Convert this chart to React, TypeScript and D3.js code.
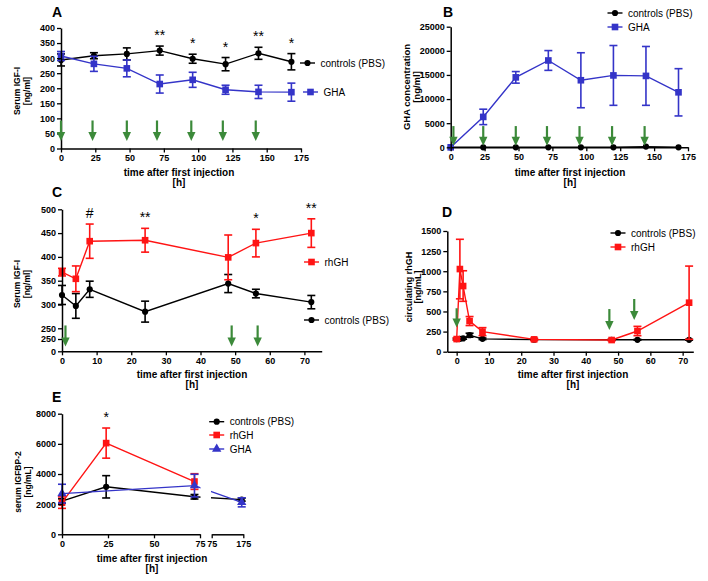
import React, { useEffect, useRef } from "react";
import * as d3 from "d3";

// ---- panel A: serum IGF-I, GHA study
const hoursA = [0, 24, 48, 72, 96, 120, 144, 168];
const ctrlA = [294, 308, 314, 325, 298, 280, 316, 288];
const ctrlAErr = [20, 10, 20, 15, 15, 22, 20, 27];
const ghaA = [307, 281, 266, 214, 228, 195, 188, 187];
const ghaAErr = [15, 25, 28, 30, 25, 15, 22, 30];
const starHoursA = [72, 96, 120, 144, 168];
const starsA = ["**", "*", "*", "**", "*"];
const arrowsA = [0, 23, 48, 70, 95, 118, 142];
const arrowSpanA = [93, 25];

// ---- panel B: GHA concentration
const hoursB = [0, 24, 48, 72, 96, 120, 144, 168];
const ctrlB = [0, 0, 0, 0, 0, 0, 150, 0];
const ghaB = [0, 6300, 14500, 18000, 13900, 14900, 14800, 11400];
const ghaBErr = [0, 1600, 1200, 2050, 5700, 6200, 6100, 4900];
const arrowsB = [2, 24, 48, 71, 95, 119, 143];
const arrowSpanB = [4400, 300];

// ---- panel C: serum IGF-I, rhGH study
const hoursC = [0, 4, 8, 24, 48, 56, 72];
const rhghC = [368, 354, 433, 435, 399, 429, 450];
const rhghCErr = [8, 27, 36, 25, 47, 29, 30];
const ctrlC = [320, 297, 332, 285, 344, 323, 305];
const ctrlCErr = [20, 26, 17, 22, 19, 9, 14];
const starHoursC = [8, 24, 56, 72];
const starsC = ["#", "**", "*", "**"];
const arrowsC = [1, 49, 56.5];
const arrowSpanC = [256, 100];

// ---- panel D: circulating rhGH
const hoursD = [0, 1, 2, 4, 8, 24, 48, 56, 72];
const rhghD = [157, 1027, 816, 381, 249, 153, 145, 257, 609];
const rhghDErr = [15, 370, 190, 56, 50, 15, 10, 58, 455];
const ctrlD = [157, 160, 165, 205, 160, 150, 148, 148, 148];
const ctrlDErr = [10, 10, 10, 25, 10, 5, 5, 5, 5];
const arrowsD = [0, 47.3, 55];
const arrowTopsD = [540, 530, 655];
const arrowTipsD = [300, 270, 394];

// ---- panel E: serum IGFBP-2
const ctrlHoursE = [0, 24, 72, 170];
const ctrlE = [2200, 3150, 2490, 2300];
const ctrlEErr = [150, 740, 150, 100];
const rhghHoursE = [0, 24, 72];
const rhghE = [2100, 6050, 3500];
const rhghEErr = [380, 1000, 520];
const ghaHoursE = [0, 72, 170];
const ghaE = [2700, 3230, 2120];
const ghaEErr = [620, 750, 300];

const BLACK = "#000";
const BLUE = "#3434c8";
const RED = "#ff1414";
const GREEN = "#3c8a3a";
const FONT = "'Liberation Sans', Arial, Helvetica, sans-serif";

type G = d3.Selection<SVGGElement, unknown, null, undefined>;
type Scale = (v: number) => number;

function drawMarker(g: G, shape: string, cx: number, cy: number, color: string) {
  const type =
    shape === "circle" ? d3.symbolCircle : shape === "square" ? d3.symbolSquare : d3.symbolTriangle;
  const size = shape === "circle" ? 30 : shape === "square" ? 44 : 38;
  g.append("path")
    .attr("d", d3.symbol().type(type).size(size)())
    .attr("transform", `translate(${cx},${cy})`)
    .attr("fill", color);
}

function drawSeries(
  g: G,
  xs: number[],
  ys: number[],
  errs: number[] | null,
  x: Scale,
  y: Scale,
  color: string,
  shape: string,
  clip?: string
) {
  const pts = xs.map((d, i) => [d, ys[i]] as [number, number]);
  const line = d3
    .line<[number, number]>()
    .x((d) => x(d[0]))
    .y((d) => y(d[1]));
  const p = g
    .append("path")
    .datum(pts)
    .attr("d", line)
    .attr("fill", "none")
    .attr("stroke", color)
    .attr("stroke-width", 1.4);
  if (clip) p.attr("clip-path", `url(#${clip})`);
  if (errs) {
    pts.forEach((d, i) => {
      const e = errs[i];
      if (!e) return;
      const cx = x(d[0]);
      const y0 = y(d[1] - e);
      const y1 = y(d[1] + e);
      g.append("line").attr("x1", cx).attr("x2", cx).attr("y1", y0).attr("y2", y1)
        .attr("stroke", color).attr("stroke-width", 1.6);
      [y0, y1].forEach((yy) =>
        g.append("line").attr("x1", cx - 4).attr("x2", cx + 4).attr("y1", yy).attr("y2", yy)
          .attr("stroke", color).attr("stroke-width", 1.6)
      );
    });
  }
  pts.forEach((d) => drawMarker(g, shape, x(d[0]), y(d[1]), color));
}

function styleAxis(a: G) {
  a.attr("font-family", FONT).attr("font-size", 9).attr("font-weight", "bold");
  a.select(".domain").attr("stroke-width", 1.5);
  a.selectAll(".tick line").attr("stroke-width", 1.3);
  a.selectAll(".tick text").attr("fill", "#000");
}

function xAxis(g: G, x: d3.ScaleLinear<number, number>, y0: number, ticks: number[]) {
  const a = g
    .append("g")
    .attr("transform", `translate(0,${y0})`)
    .call(d3.axisBottom(x).tickValues(ticks).tickSize(4).tickSizeOuter(0).tickPadding(2).tickFormat(d3.format("d")));
  styleAxis(a);
}

function yAxis(g: G, y: d3.ScaleLinear<number, number>, x0: number, ticks: number[]) {
  const a = g
    .append("g")
    .attr("transform", `translate(${x0},0)`)
    .call(d3.axisLeft(y).tickValues(ticks).tickSize(4).tickSizeOuter(0).tickPadding(2).tickFormat((d) => String(Math.round(+d))));
  styleAxis(a);
}

function arrow(g: G, cx: number, yTop: number, yTip: number) {
  g.append("line").attr("x1", cx).attr("x2", cx).attr("y1", yTop).attr("y2", yTip - 7)
    .attr("stroke", GREEN).attr("stroke-width", 2.2);
  g.append("path")
    .attr("d", `M${cx - 4.2},${yTip - 9}L${cx + 4.2},${yTip - 9}L${cx},${yTip}Z`)
    .attr("fill", GREEN);
}

function legend(g: G, cx: number, cy: number, color: string, shape: string, label: string) {
  g.append("line").attr("x1", cx - 7.5).attr("x2", cx + 7.5).attr("y1", cy).attr("y2", cy)
    .attr("stroke", color).attr("stroke-width", 1.4);
  drawMarker(g, shape, cx, cy, color);
  g.append("text").attr("x", cx + 13).attr("y", cy).attr("dy", "0.35em")
    .attr("font-family", FONT).attr("font-size", 10).attr("fill", "#000").text(label);
}

function yTitle(g: G, lines: string[], xs: number[], cy: number, size: number) {
  lines.forEach((t, i) =>
    g.append("text")
      .attr("transform", `translate(${xs[i]},${cy}) rotate(-90)`)
      .attr("text-anchor", "middle").attr("font-family", FONT).attr("font-size", size)
      .attr("font-weight", "bold").text(t)
  );
}

function xTitle(g: G, cx: number, y0: number) {
  g.append("text").attr("x", cx).attr("y", y0).attr("text-anchor", "middle")
    .attr("font-family", FONT).attr("font-size", 10).attr("font-weight", "bold")
    .text("time after first injection");
  g.append("text").attr("x", cx).attr("y", y0 + 10).attr("text-anchor", "middle")
    .attr("font-family", FONT).attr("font-size", 10).attr("font-weight", "bold").text("[h]");
}

function panelLetter(g: G, x: number, y: number, t: string) {
  g.append("text").attr("x", x).attr("y", y).attr("font-family", FONT)
    .attr("font-size", 14).attr("font-weight", "bold").text(t);
}

function star(g: G, cx: number, y: number, t: string) {
  g.append("text").attr("x", cx).attr("y", y).attr("text-anchor", "middle")
    .attr("font-family", FONT).attr("font-size", 14).text(t);
}

const App: React.FC = () => {
  const ref = useRef<SVGSVGElement>(null);

  useEffect(() => {
    const svg = d3.select(ref.current);
    svg.selectAll("*").remove();
    svg.append("rect").attr("width", 708).attr("height", 581).attr("fill", "#fff");
    const root = svg.append("g") as unknown as G;

    // ===== A
    {
      const g = root.append("g") as G;
      const x = d3.scaleLinear().domain([0, 175]).range([61, 301]);
      const y = d3.scaleLinear().domain([0, 400]).range([148.5, 28]);
      drawSeries(g, hoursA, ctrlA, ctrlAErr, x, y, BLACK, "circle");
      drawSeries(g, hoursA, ghaA, ghaAErr, x, y, BLUE, "square");
      xAxis(g, x, 148.5, d3.range(0, 176, 25));
      yAxis(g, y, 61, d3.range(0, 401, 50));
      arrowsA.forEach((h) => arrow(g, x(h), y(arrowSpanA[0]), y(arrowSpanA[1])));
      starHoursA.forEach((h, i) => {
        const k = hoursA.indexOf(h);
        const top = Math.max(ctrlA[k] + ctrlAErr[k], ghaA[k] + ghaAErr[k]);
        star(g, x(h), y(top) - 6, starsA[i]);
      });
      legend(g, 307.5, 63, BLACK, "circle", "controls (PBS)");
      legend(g, 310.5, 92, BLUE, "square", "GHA");
      panelLetter(g, 52, 17, "A");
      yTitle(g, ["Serum IGF-I", "[ng/ml]"], [20, 29.5], 91, 8.5);
      xTitle(g, 179, 176);
    }

    // ===== B
    {
      const g = root.append("g") as G;
      const x = d3.scaleLinear().domain([0, 175]).range([450.7, 688]);
      const y = d3.scaleLinear().domain([0, 25000]).range([147.3, 26.7]);
      drawSeries(g, hoursB, ctrlB, null, x, y, BLACK, "circle");
      drawSeries(g, hoursB, ghaB, ghaBErr, x, y, BLUE, "square");
      xAxis(g, x, 147.3, d3.range(0, 176, 25));
      yAxis(g, y, 450.7, d3.range(0, 25001, 5000));
      arrowsB.forEach((h) => arrow(g, x(h), y(arrowSpanB[0]), y(arrowSpanB[1])));
      legend(g, 615, 13, BLACK, "circle", "controls (PBS)");
      legend(g, 615, 27, BLUE, "square", "GHA");
      panelLetter(g, 443, 17, "B");
      yTitle(g, ["GHA concentration", "[ng/ml]"], [409.5, 419.5], 87, 9.5);
      xTitle(g, 570, 176);
    }

    // ===== C (broken y axis)
    {
      const g = root.append("g") as G;
      const x = d3.scaleLinear().domain([0, 75]).range([62, 321.7]);
      const y = d3.scaleLinear().domain([0, 250, 250.001, 500]).range([351.3, 339, 328.3, 209.3]);
      drawSeries(g, hoursC, ctrlC, ctrlCErr, x, y, BLACK, "circle");
      drawSeries(g, hoursC, rhghC, rhghCErr, x, y, RED, "square");
      xAxis(g, x, 351.3, d3.range(0, 71, 10));
      yAxis(g, y, 62, [0, 250, 250.001, 300, 350, 400, 450, 500]);
      arrowsC.forEach((h) => arrow(g, x(h), y(arrowSpanC[0]), y(arrowSpanC[1])));
      starHoursC.forEach((h, i) => {
        const k = hoursC.indexOf(h);
        const top = Math.max(ctrlC[k] + ctrlCErr[k], rhghC[k] + rhghCErr[k]);
        star(g, x(h), y(top) - 6, starsC[i]);
      });
      legend(g, 311.5, 262, RED, "square", "rhGH");
      legend(g, 311.5, 320, BLACK, "circle", "controls (PBS)");
      panelLetter(g, 52, 197, "C");
      yTitle(g, ["Serum IGF-I", "[ng/ml]"], [20, 29.5], 284, 8.5);
      xTitle(g, 192, 378);
    }

    // ===== D
    {
      const g = root.append("g") as G;
      const x = d3.scaleLinear().domain([-2.9, 73.3]).range([447.3, 693.3]);
      const y = d3.scaleLinear().domain([0, 1500]).range([351.7, 231]);
      drawSeries(g, hoursD, ctrlD, ctrlDErr, x, y, BLACK, "circle");
      drawSeries(g, hoursD, rhghD, rhghDErr, x, y, RED, "square");
      xAxis(g, x, 351.7, d3.range(0, 71, 10));
      yAxis(g, y, 447.3, d3.range(0, 1501, 250));
      arrowsD.forEach((h, i) => arrow(g, x(h), y(arrowTopsD[i]), y(arrowTipsD[i])));
      legend(g, 618, 233, BLACK, "circle", "controls (PBS)");
      legend(g, 618, 247, RED, "square", "rhGH");
      panelLetter(g, 442, 216.5, "D");
      yTitle(g, ["circulating rhGH", "[ng/mL]"], [411.5, 421], 287, 9);
      xTitle(g, 573, 378);
    }

    // ===== E (broken x axis)
    {
      const g = root.append("g") as G;
      const x1 = d3.scaleLinear().domain([0, 75]).range([62, 200]);
      const x2 = d3.scaleLinear().domain([75, 175]).range([211.7, 243.3]);
      const x = (v: number) => (v <= 75 ? x1(v) : x2(v));
      const y = d3.scaleLinear().domain([0, 8000]).range([534.3, 413.7]);
      const cp = svg.append("defs").append("clipPath").attr("id", "gapE");
      cp.append("rect").attr("x", 40).attr("y", 400).attr("width", 160.5).attr("height", 140);
      cp.append("rect").attr("x", 211).attr("y", 400).attr("width", 60).attr("height", 140);
      drawSeries(g, ctrlHoursE, ctrlE, ctrlEErr, x, y, BLACK, "circle", "gapE");
      drawSeries(g, rhghHoursE, rhghE, rhghEErr, x, y, RED, "square", "gapE");
      drawSeries(g, ghaHoursE, ghaE, ghaEErr, x, y, BLUE, "triangle", "gapE");
      xAxis(g, x1, 534.3, [0, 25, 50, 75]);
      xAxis(g, x2, 534.3, [75, 175]);
      yAxis(g, y, 62, d3.range(0, 8001, 2000));
      const k = rhghHoursE.indexOf(24);
      star(g, x(24), y(rhghE[k] + rhghEErr[k]) - 6, "*");
      legend(g, 216.7, 421.7, BLACK, "circle", "controls (PBS)");
      legend(g, 216.7, 435, RED, "square", "rhGH");
      legend(g, 216.7, 449, BLUE, "triangle", "GHA");
      panelLetter(g, 52, 401.5, "E");
      yTitle(g, ["serum IGFBP-2", "[ng/mL]"], [20.5, 30.5], 482, 8.5);
      xTitle(g, 152, 562);
    }
  }, []);

  return (
    <svg
      ref={ref}
      width={708}
      height={581}
      style={{ position: "absolute", left: 0, top: 0, display: "block" }}
    />
  );
};

export default App;
